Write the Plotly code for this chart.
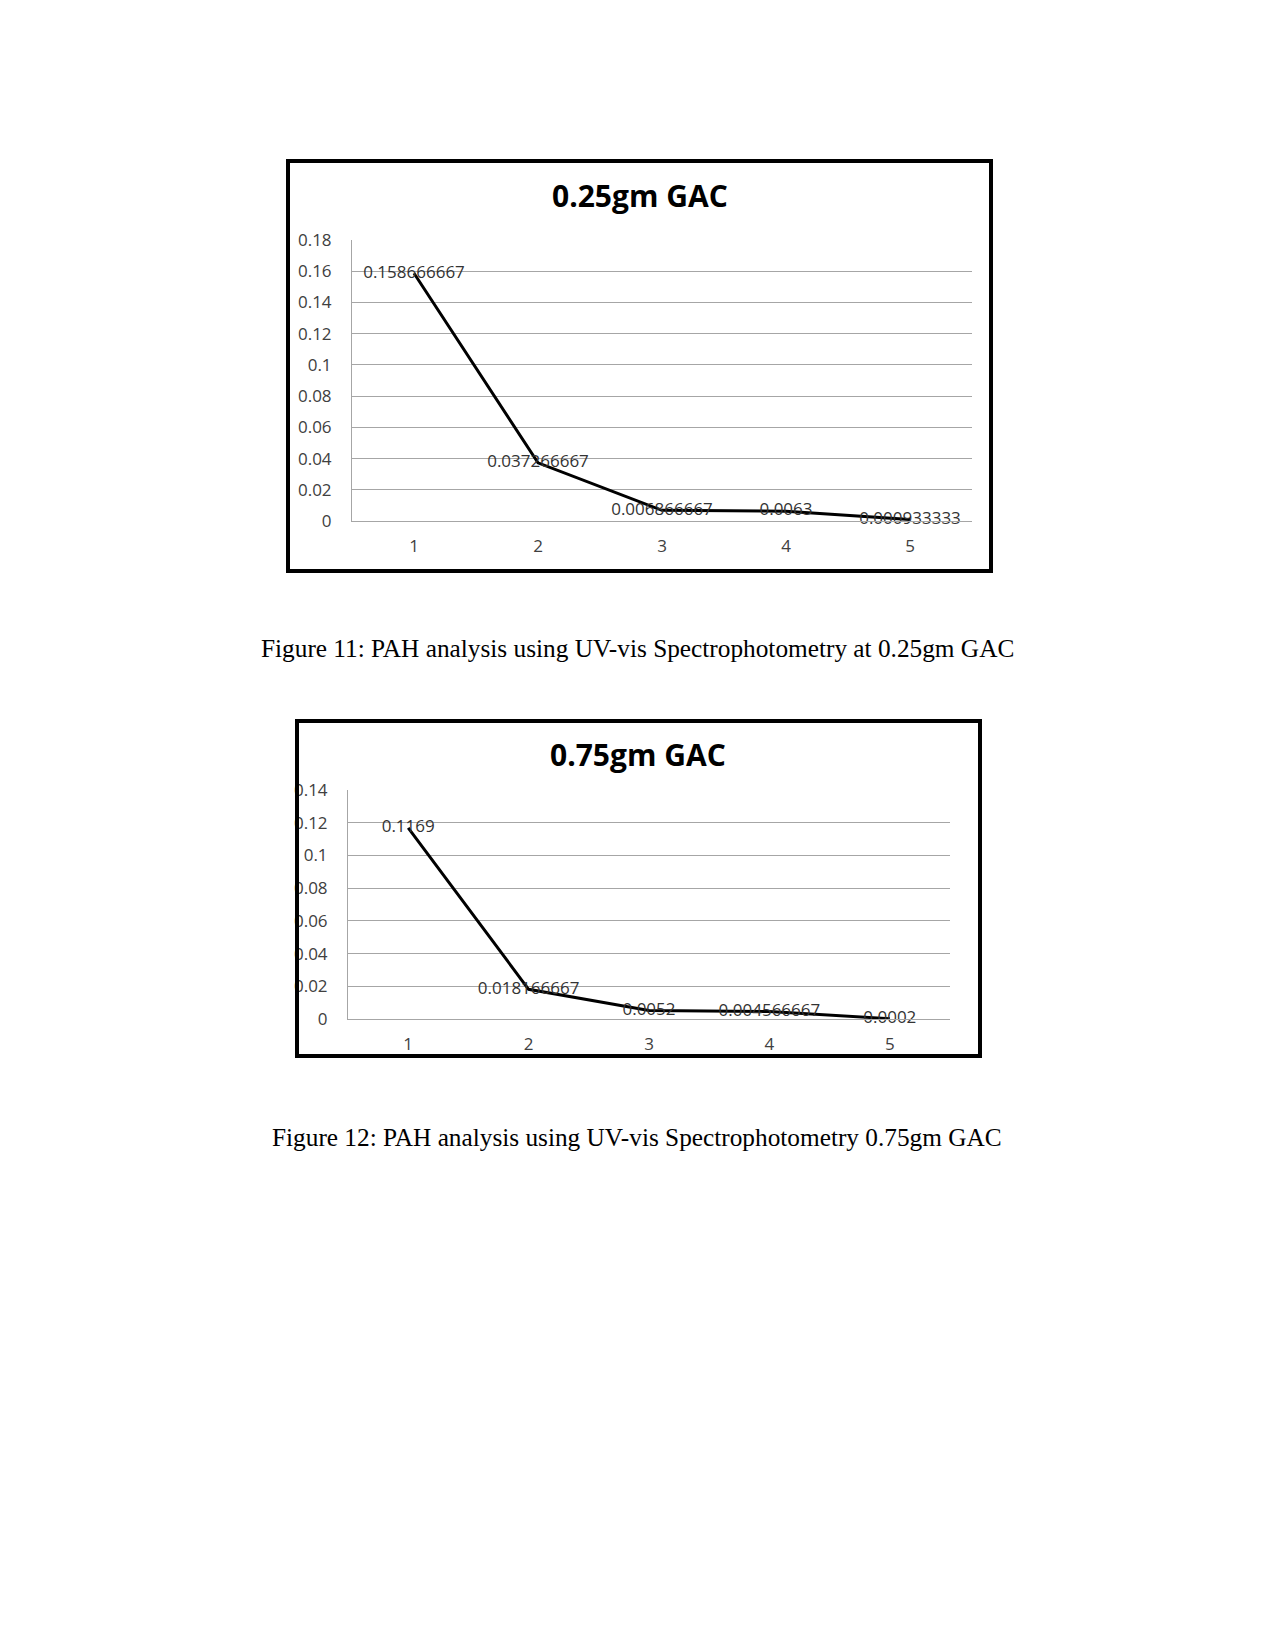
import plotly.graph_objects as go

W, H = 1275, 1650

# ---- data ----
categories = ["1", "2", "3", "4", "5"]

gac025_values = [0.158666667, 0.037266667, 0.006866667, 0.0063, 0.000933333]
gac025_labels = ["0.158666667", "0.037266667", "0.006866667", "0.0063", "0.000933333"]
gac025_ticks = [0, 0.02, 0.04, 0.06, 0.08, 0.1, 0.12, 0.14, 0.16, 0.18]
gac025_ticktext = ["0", "0.02", "0.04", "0.06", "0.08", "0.1", "0.12", "0.14", "0.16", "0.18"]

gac075_values = [0.1169, 0.018166667, 0.0052, 0.004566667, 0.0002]
gac075_labels = ["0.1169", "0.018166667", "0.0052", "0.004566667", "0.0002"]
gac075_ticks = [0, 0.02, 0.04, 0.06, 0.08, 0.1, 0.12, 0.14]
gac075_ticktext = ["0", "0.02", "0.04", "0.06", "0.08", "0.1", "0.12", "0.14"]

title1 = "0.25gm GAC"
title2 = "0.75gm GAC"
caption1 = "Figure 11: PAH analysis using UV-vis Spectrophotometry at 0.25gm GAC"
caption2 = "Figure 12: PAH analysis using UV-vis Spectrophotometry 0.75gm GAC"


def px(x):
    return x / W


def py(y):
    return 1 - y / H


SANS = "Open Sans"
GRID = "#a6a6a6"
TXT = "#404040"
FS = 17

fig = go.Figure()

fig.add_trace(go.Scatter(
    x=categories, y=gac025_values, text=gac025_labels,
    mode="lines+text", textposition="middle center",
    line=dict(color="black", width=3),
    textfont=dict(family=SANS, size=FS, color="#333333"),
    xaxis="x", yaxis="y", showlegend=False, cliponaxis=False,
))
fig.add_trace(go.Scatter(
    x=categories, y=gac075_values, text=gac075_labels,
    mode="lines+text", textposition="middle center",
    line=dict(color="black", width=3),
    textfont=dict(family=SANS, size=FS, color="#333333"),
    xaxis="x2", yaxis="y2", showlegend=False, cliponaxis=False,
))

xcommon = dict(type="category", range=[-0.5, 4.5], showgrid=False,
               showline=True, linecolor=GRID, linewidth=1,
               ticks="", tickfont=dict(family=SANS, size=FS, color=TXT),
               ticklabelstandoff=10, zeroline=False, fixedrange=True,
               automargin=False)
ycommon = dict(showgrid=True, gridcolor=GRID, gridwidth=1,
               showline=True, linecolor=GRID, linewidth=1,
               ticks="", tickfont=dict(family=SANS, size=FS, color=TXT),
               ticklabelstandoff=16, zeroline=False, fixedrange=True,
               automargin=False)

fig.update_layout(
    width=W, height=H, autosize=False,
    margin=dict(l=0, r=0, t=0, b=0, pad=0, autoexpand=False),
    showlegend=False,
    paper_bgcolor="white", plot_bgcolor="white",
    xaxis=dict(domain=[px(352), px(972)], anchor="y", **xcommon),
    yaxis=dict(domain=[py(521), py(240)], anchor="x", range=[0, 0.18],
               tickvals=gac025_ticks, ticktext=gac025_ticktext, **ycommon),
    xaxis2=dict(domain=[px(348), px(950)], anchor="y2", **xcommon),
    yaxis2=dict(domain=[py(1019), py(790)], anchor="x2", range=[0, 0.14],
                tickvals=gac075_ticks, ticktext=gac075_ticktext, **ycommon),
)

fig.add_shape(type="rect", xref="paper", yref="paper",
              x0=px(288), x1=px(991), y0=py(571), y1=py(161),
              line=dict(color="black", width=4), layer="above")
fig.add_shape(type="rect", xref="paper", yref="paper",
              x0=px(297), x1=px(980), y0=py(1056), y1=py(721),
              line=dict(color="black", width=4), layer="above")

for txt, xc, yc in [(title1, 640, 196), (title2, 638, 755)]:
    fig.add_annotation(text="<b>" + txt + "</b>", x=px(xc), y=py(yc),
                       xref="paper", yref="paper", showarrow=False,
                       xanchor="center", yanchor="middle",
                       font=dict(family=SANS, size=30, color="black"))

for txt, xc, yc in [(caption1, 637, 648), (caption2, 637, 1137)]:
    fig.add_annotation(text=txt, x=px(xc), y=py(yc),
                       xref="paper", yref="paper", showarrow=False,
                       xanchor="center", yanchor="middle",
                       font=dict(family="Liberation Serif", size=25.3, color="black"))

fig.write_html("out.html")
